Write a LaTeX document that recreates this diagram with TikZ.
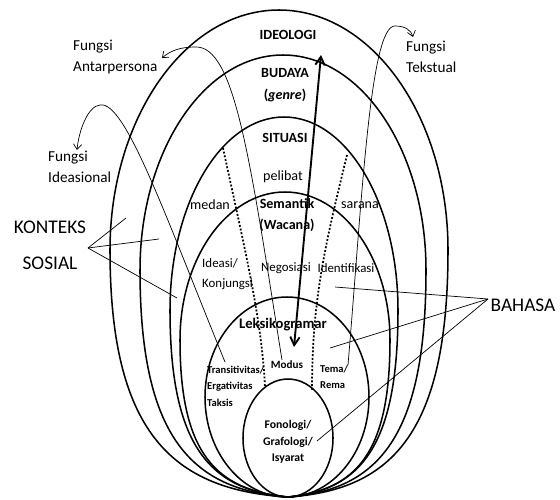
\documentclass[tikz,border=0pt]{standalone}
\usepackage{fontspec}
\setmainfont{Carlito}
\usetikzlibrary{arrows.meta}

\begin{document}
\begin{tikzpicture}
      [
        x=0.03cm, y=-0.03cm,
        ring/.style={line width=1.3pt},
        link/.style={line width=0.6pt},
        fungsi/.style={link,-{Straight Barb[length=4.5pt,width=7pt]}},
        border/.style={line width=1.5pt, dash pattern=on 1.6pt off 1.6pt},
        biglabel/.style={font=\fontsize{16.5}{31}\selectfont, align=center},
        sidelabel/.style={font=\fontsize{13}{18}\selectfont, align=left, anchor=west, inner sep=0pt},
        layerlabel/.style={font=\bfseries\fontsize{12}{18.5}\selectfont, align=center},
        linklabel/.style={font=\fontsize{12}{15}\selectfont},
        funclabel/.style={font=\fontsize{11}{17}\selectfont, align=left},
        unitlabel/.style={font=\bfseries\fontsize{9}{14}\selectfont, align=left, inner sep=0pt}
      ]
      \useasboundingbox (0,0) rectangle (560,499);
      % layers, all meeting at the bottom
      \foreach \xc/\yt/\yw/\a in {279/10/250/169, 283/55/270/143, 284/117/310/114, 285/192/340/105} {
          \draw[ring] (\xc,\yt)
          .. controls ({\xc-0.552*\a},\yt) and ({\xc-\a},{\yw-0.552*(\yw-\yt)}) .. ({\xc-\a},\yw)
          .. controls ({\xc-\a},{\yw+0.73*(497-\yw)}) and ({288-0.66*(288-\xc+\a)},490) .. (288,497)
          .. controls ({288+0.66*(\xc+\a-288)},490) and ({\xc+\a},{\yw+0.73*(497-\yw)}) .. ({\xc+\a},\yw)
          .. controls ({\xc+\a},{\yw-0.552*(\yw-\yt)}) and ({\xc+0.552*\a},\yt) .. cycle;
      }
      \draw[ring] (287,397) ellipse (82 and 100);
      \draw[ring] (288,438) ellipse (45 and 59);
      % labels
      \node[layerlabel] (ideologi) at (288,35) {IDEOLOGI};
      \node[layerlabel] (budaya) at (285,85) {BUDAYA\\(\textit{genre})};
      \node[layerlabel] (situasi) at (285,138) {SITUASI};
      \node[linklabel] (pelibat) at (283,177) {pelibat};
      \node[linklabel] (medan) at (210,205) {medan};
      \node[linklabel] (sarana) at (360,205) {sarana};
      \node[layerlabel] (semantik) at (287,215) {Semantik\\(Wacana)};
      \node[funclabel, anchor=west, inner sep=0pt] (ideasi) at (202,274) {Ideasi/\\Konjungsi};
      \node[funclabel] (negosiasi) at (286,268) {Negosiasi};
      \node[funclabel] (identifikasi) at (346,268) {Identifikasi};
      \node[layerlabel, font=\bfseries\fontsize{12.5}{15}\selectfont] (leksiko) at (283,325) {Leksikogramar};
      \node[unitlabel, anchor=west] (transitivitas) at (207,386) {Transitivitas/\\Ergativitas\\Taksis};
      \node[unitlabel, font=\bfseries\fontsize{9.5}{14}\selectfont] (modus) at (287,365) {Modus};
      \node[unitlabel, anchor=west] (tema) at (320,377) {Tema/\\Rema};
      \node[layerlabel, font=\bfseries\fontsize{10}{14}\selectfont] (fonologi) at (288,442) {Fonologi/\\Grafologi/\\Isyarat};
      \node[sidelabel] (antarpersona) at (73,57) {Fungsi\\Antarpersona};
      \node[sidelabel] (ideasional) at (48,167) {Fungsi\\Ideasional};
      \node[sidelabel] (tekstual) at (406,57) {Fungsi\\Tekstual};
      \node[biglabel] (konteks) at (50,245) {KONTEKS\\SOSIAL};
      \node[biglabel] (bahasa) at (523,305) {BAHASA};
      % points the connectors run to
      \coordinate (konteksTip) at (88,248);
      \coordinate (bahasaTip) at (488,299);
      \coordinate (ideoTop) at (321,55);
      \coordinate (leksTip) at (294,347);
      \coordinate (medanTop) at (223,148);
      \coordinate (medanEnd) at (265,388);
      \coordinate (saranaTop) at (347,155);
      \coordinate (saranaEnd) at (312,390);
      % dotted borders
      \draw[border] (medanTop) .. controls (245,250) and (262,320) .. (medanEnd);
      \draw[border] (saranaTop) .. controls (325,245) and (312,300) .. (saranaEnd);
      % realisation arrow
      \draw[line width=1.6pt, {Straight Barb[length=7pt,width=8pt]}-{Straight Barb[length=7pt,width=8pt]}] (leksTip) -- (ideoTop);
      % fungsi curves
      \draw[fungsi] (282,360) .. controls (250,160) and (235,45) .. (195,47)
      .. controls (180,47) and (170,51) .. (162,58);
      \draw[fungsi] (225,362) .. controls (165,215) and (125,100) .. (100,105)
      .. controls (88,106) and (79,130) .. (77,150);
      \draw[fungsi] (348,365) .. controls (362,200) and (370,25) .. (395,26)
      .. controls (405,26) and (411,30) .. (413,37);
      % konteks sosial
      \foreach \p in {(126,218),(159,239),(177,298)} {
          \draw[link] (konteksTip) -- \p;
      }
      % bahasa
      \foreach \p in {(335,287),(330,348),(317,441)} {
          \draw[link] (bahasaTip) -- \p;
      }
\end{tikzpicture}
\end{document}
